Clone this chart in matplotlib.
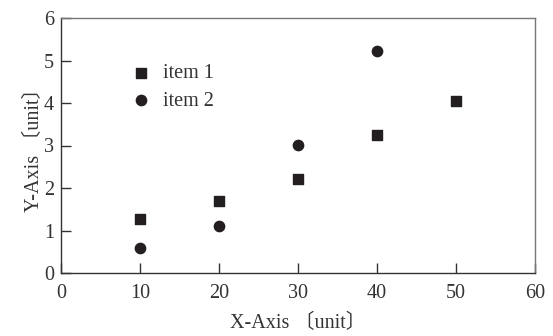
import matplotlib.pyplot as plt

# data
item1_x = [10, 20, 30, 40, 50]
item1_y = [1.28, 1.69, 2.22, 3.25, 4.05]
item2_x = [10, 20, 30, 40]
item2_y = [0.60, 1.10, 3.02, 5.22]

fonts = ['Liberation Serif', 'Noto Sans CJK JP']
plt.rcParams['font.family'] = fonts

fig = plt.figure(figsize=(5.53, 3.36), dpi=100)
ax = fig.add_axes([61 / 553, 1 - 273 / 336, 474 / 553, 255 / 336])

ax.scatter(item1_x, item1_y, marker='s', s=50, color='#231f20', label='item 1', zorder=3)
ax.scatter(item2_x, item2_y, marker='o', s=55, color='#231f20', label='item 2', zorder=3)

ax.set_xlim(0, 60)
ax.set_ylim(0, 6)
ax.set_xticks(range(0, 61, 10))
ax.set_yticks(range(0, 7))

for sp in ax.spines.values():
    sp.set_color('#777777')
    sp.set_linewidth(1.0)
ax.spines['left'].set_color('#333333')
ax.spines['bottom'].set_color('#333333')

ax.tick_params(direction='in', length=7, width=1, color='#333333',
               labelcolor='#333333', labelsize=14.5, pad=5)
ax.tick_params(axis='x', pad=8)

ax.set_xlabel('X-Axis 〔unit〕', fontsize=14.5, color='#333333', labelpad=8)
ax.set_ylabel('Y-Axis 〔unit〕', fontsize=14.5, color='#333333', labelpad=0)

ax.legend(loc='upper left', bbox_to_anchor=(0.11, 0.85), frameon=False,
          fontsize=14.5, handletextpad=0.1, labelspacing=0.4,
          labelcolor='#333333', borderaxespad=0)

fig.savefig('out.png', dpi=100)
